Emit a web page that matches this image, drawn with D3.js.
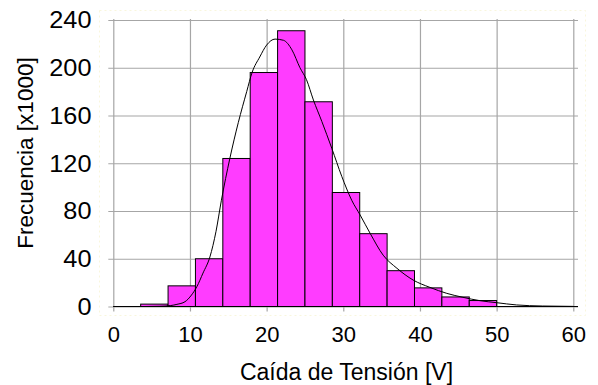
<!DOCTYPE html>
<html>
<head>
<meta charset="utf-8">
<script src="https://cdn.jsdelivr.net/npm/d3@7"></script>
<style>
  html, body { margin: 0; padding: 0; background: #ffffff; }
  svg { display: block; }
  text { font-family: "Liberation Sans", Arial, sans-serif; fill: #000; }
</style>
</head>
<body>
<svg id="chart" width="598" height="385"></svg>
<script>
// Histogram bins: 14 equal classes from 0 to 50 V
const binEdges = [0, 3.571, 7.143, 10.714, 14.286, 17.857, 21.429, 25.0, 28.571, 32.143, 35.714, 39.286, 42.857, 46.429, 50.0];
// Frequency per bin, in thousands
const binCounts = [0, 2, 17.3, 40, 124, 196, 231, 171.5, 95.5, 61, 30, 15.6, 8, 5];

// Fitted density curve (scaled to frequency, thousands)
const curveX = [0, 4, 6, 7.5, 8.3, 9.35, 10.2, 10.9, 11.7, 12.6, 13.4, 14.1, 15.2, 16.3, 17.4, 18.1, 19.1, 20.0, 21.1, 22.2, 23.3, 24.35, 25.2, 26.1, 27.2, 28.5, 29.8, 31.1, 32.2, 33.5, 35.2, 37.0, 39.1, 41.3, 43.5, 45.6, 47.8, 50, 52.6, 56, 60];
const curveY = [0, 0, 0.2, 0.8, 1.8, 4, 9.6, 16.6, 28, 41.5, 63, 89, 124, 154, 180, 196, 209, 219, 224, 223, 215, 200, 190, 173, 155, 132.5, 109, 89, 76.6, 61.3, 43, 32, 22.2, 16, 11, 7.7, 4.9, 3.2, 1.3, 0.4, 0.1];

// Axis ticks
const xTicks = [0, 10, 20, 30, 40, 50, 60];
const yTicks = [0, 40, 80, 120, 160, 200, 240];

const xLabel = "Caída de Tensión [V]";
const yLabel = "Frecuencia [x1000]";

const svg = d3.select("#chart");
const plotLeft = 113.3, plotRight = 573.3, plotTop = 20, plotBottom = 306.5;
const frameRight = 578;

const x = d3.scaleLinear().domain([0, 60]).range([plotLeft, plotRight]);
const y = d3.scaleLinear().domain([0, 240]).range([plotBottom, plotTop]);

// faint dotted frame around the plot region
svg.append("rect")
  .attr("x", 99.5).attr("y", 10.5)
  .attr("width", 486).attr("height", 305)
  .attr("fill", "none")
  .attr("stroke", "#f9f6dc")
  .attr("stroke-width", 1)
  .attr("stroke-dasharray", "2,3");

// horizontal gridlines + y tick labels
const yAxis = svg.append("g")
  .attr("transform", `translate(${plotLeft},0)`)
  .call(d3.axisLeft(y).tickValues(yTicks).tickSizeInner(-(frameRight - plotLeft)).tickSizeOuter(0).tickPadding(22));
yAxis.select(".domain").remove();
yAxis.selectAll(".tick line")
  .attr("x1", -5)
  .attr("stroke", "#a6a6a6")
  .attr("stroke-width", 1.2);
yAxis.selectAll(".tick text")
  .attr("x", 91.5 - plotLeft)
  .attr("dy", "0.34em")
  .attr("font-size", 23)
  .attr("font-family", "Liberation Sans, Arial, sans-serif")
  .attr("fill", "#000")
  .each(function () {
    const w = this.getComputedTextLength();
    d3.select(this).attr("textLength", w * 1.1).attr("lengthAdjust", "spacingAndGlyphs");
  });

// vertical gridlines + x tick labels
const xAxis = svg.append("g")
  .attr("transform", `translate(0,${plotBottom})`)
  .call(d3.axisBottom(x).tickValues(xTicks).tickSizeInner(-(plotBottom - plotTop + 1)).tickSizeOuter(0).tickPadding(0));
xAxis.select(".domain").remove();
xAxis.selectAll(".tick line")
  .attr("y1", 5)
  .attr("stroke", "#a6a6a6")
  .attr("stroke-width", 1.2);
xAxis.selectAll(".tick text")
  .attr("y", 35.5)
  .attr("dy", 0)
  .attr("font-size", 22)
  .attr("font-family", "Liberation Sans, Arial, sans-serif")
  .attr("fill", "#000");

// histogram bars
const bars = binCounts.map((v, i) => ({ x0: binEdges[i], x1: binEdges[i + 1], v }));
svg.append("g")
  .selectAll("rect")
  .data(bars.filter(d => d.v > 0))
  .join("rect")
  .attr("x", d => x(d.x0))
  .attr("y", d => y(d.v))
  .attr("width", d => x(d.x1) - x(d.x0))
  .attr("height", d => y(0) - y(d.v))
  .attr("fill", "#ff3cff")
  .attr("stroke", "#000")
  .attr("stroke-width", 1);

// baseline
svg.append("line")
  .attr("x1", plotLeft).attr("x2", frameRight)
  .attr("y1", y(0)).attr("y2", y(0))
  .attr("stroke", "#000").attr("stroke-width", 1.2);

// density curve
const line = d3.line()
  .x((d, i) => x(curveX[i]))
  .y(d => y(d))
  .curve(d3.curveMonotoneX);
svg.append("path")
  .attr("d", line(curveY))
  .attr("fill", "none")
  .attr("stroke", "#000")
  .attr("stroke-width", 1);

// axis titles
svg.append("text")
  .attr("x", 346.5).attr("y", 379.5)
  .attr("text-anchor", "middle")
  .attr("font-size", 23)
  .text(xLabel);

svg.append("text")
  .attr("transform", "translate(32.5,153) rotate(-90)")
  .attr("text-anchor", "middle")
  .attr("font-size", 22.5)
  .text(yLabel);
</script>
</body>
</html>
